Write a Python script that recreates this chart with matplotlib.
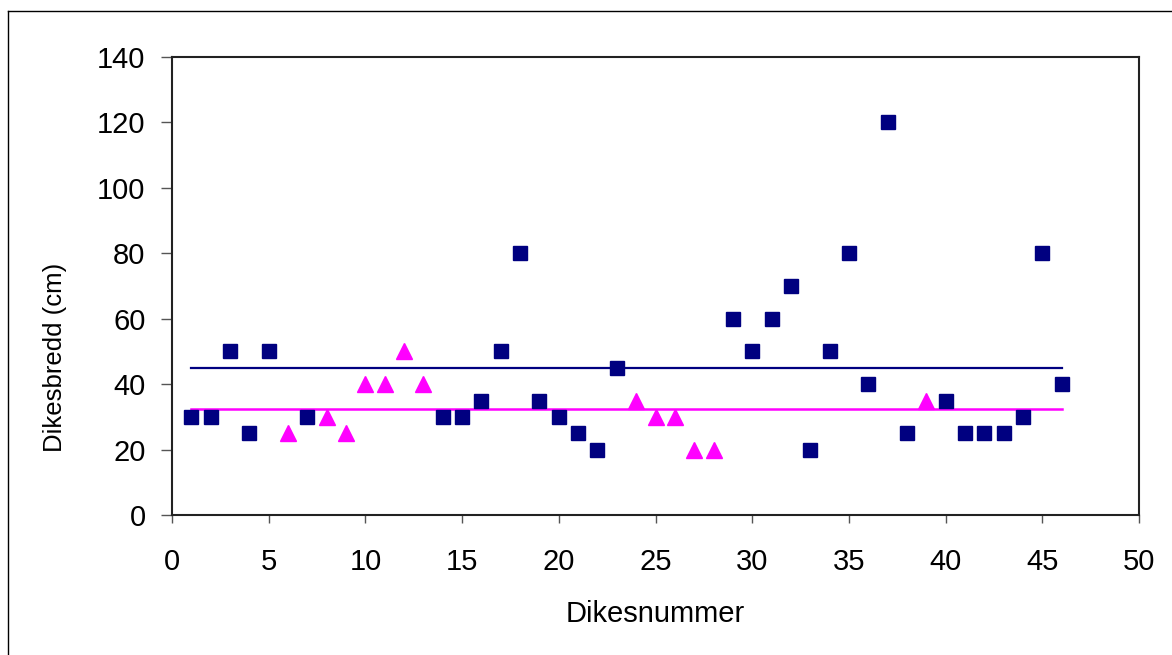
import matplotlib
matplotlib.use('Agg')
import matplotlib.pyplot as plt
from matplotlib.lines import Line2D

plt.rcParams['font.family'] = ['Liberation Sans', 'DejaVu Sans']

# Dikesnummer og dikesbredd (cm) - firkanter
sq_x = [1, 2, 3, 4, 5, 7, 14, 15, 16, 17, 18, 19, 20, 21, 22, 23,
        29, 30, 31, 32, 33, 34, 35, 36, 37, 38, 40, 41, 42, 43, 44, 45, 46]
sq_y = [30, 30, 50, 25, 50, 30, 30, 30, 35, 50, 80, 35, 30, 25, 20, 45,
        60, 50, 60, 70, 20, 50, 80, 40, 120, 25, 35, 25, 25, 25, 30, 80, 40]

# Trekanter
tri_x = [6, 8, 9, 10, 11, 12, 13, 24, 25, 26, 27, 28, 39]
tri_y = [25, 30, 25, 40, 40, 50, 40, 35, 30, 30, 20, 20, 35]

# Gjennomsnittslinjer
line_x = [1, 46]
sq_mean = [45, 45]
tri_mean = [32.3, 32.3]

navy = '#000080'
magenta = '#FF00FF'

W, H = 1172, 655
L, R, T, B = 172, 1139, 57, 515
fig = plt.figure(figsize=(W / 100, H / 100), dpi=100, facecolor='white')
ax = fig.add_axes([L / W, 1 - B / H, (R - L) / W, (B - T) / H])

ax.plot(line_x, sq_mean, color=navy, linewidth=1.6, zorder=2)
ax.plot(line_x, tri_mean, color=magenta, linewidth=1.8, zorder=2)
ax.plot(sq_x, sq_y, linestyle='none', marker='s', markersize=9.4,
        color=navy, markeredgecolor=navy, zorder=3)
ax.plot(tri_x, tri_y, linestyle='none', marker='^', markersize=11,
        color=magenta, markeredgecolor=magenta, zorder=3)

ax.set_xlim(0, 50)
ax.set_ylim(0, 140)
ax.set_xticks(range(0, 51, 5))
ax.set_yticks(range(0, 141, 20))

for s in ax.spines.values():
    s.set_linewidth(1.5)
    s.set_color('#222222')

ax.tick_params(axis='y', direction='out', length=8, width=1, color='#555555',
               labelsize=21, pad=11)
ax.tick_params(axis='x', direction='out', length=6, width=1, color='#555555',
               labelsize=21, pad=18)

ax.set_xlabel('Dikesnummer', fontsize=21, va='center')
ax.xaxis.set_label_coords(0.5, (B - 614) / (B - T))
ax.set_ylabel('Dikesbredd (cm)', fontsize=18.5, va='center')
ax.yaxis.set_label_coords((55 - L) / (R - L), (B - 357) / (B - T))

# Ytre ramme
fig.add_artist(Line2D([8 / W, 8 / W], [1 - 11 / H, 0], transform=fig.transFigure,
                      color='black', linewidth=1))
fig.add_artist(Line2D([8 / W, 1], [1 - 11 / H, 1 - 11 / H], transform=fig.transFigure,
                      color='black', linewidth=1))

fig.savefig('out.png', dpi=100, facecolor='white')
